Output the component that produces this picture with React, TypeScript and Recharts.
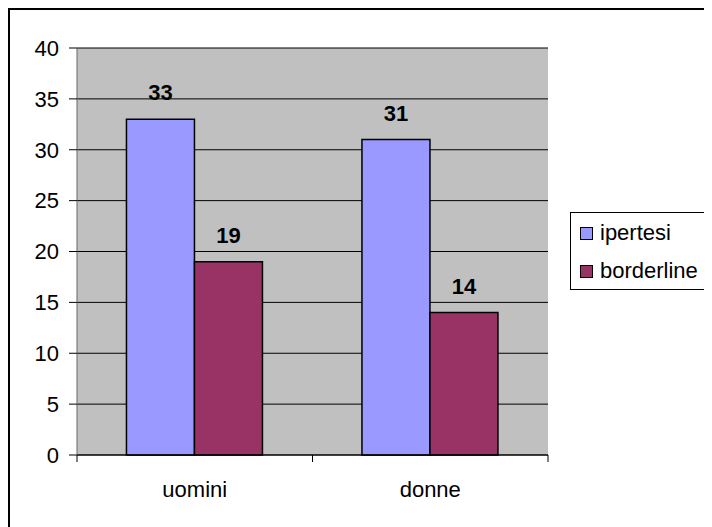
import { BarChart, Bar, XAxis, YAxis, CartesianGrid, Legend, LabelList } from 'recharts';

const categories = ['uomini', 'donne'];
const ipertesi = [33, 31];
const borderline = [19, 14];
const yTicks = [0, 5, 10, 15, 20, 25, 30, 35, 40];

const data = categories.map((name, i) => ({
  name,
  ipertesi: ipertesi[i],
  borderline: borderline[i],
}));

// helper axis runs 0..1 across the plot: even steps = category boundaries, odd = centers
const steps = categories.length * 2;
const xTicks = Array.from({ length: steps + 1 }, (_, k) => k / steps);

const FONT = '"Liberation Sans", Arial, sans-serif';

const XTick = (props: any) => {
  const { x, y, payload } = props;
  const k = Math.round(payload.value * steps);
  if (k % 2 === 0) {
    return <line x1={x} x2={x} y1={y} y2={y + 7} stroke="#000" strokeWidth={1} />;
  }
  return (
    <text x={x} y={y + 42} textAnchor="middle" fontSize={22} fill="#000" fontFamily={FONT}>
      {categories[(k - 1) / 2]}
    </text>
  );
};

const LegendBox = () => {
  const items = [
    { name: 'ipertesi', color: '#9999FF' },
    { name: 'borderline', color: '#993366' },
  ];
  return (
    <div
      style={{
        width: 141,
        height: 78,
        boxSizing: 'border-box',
        border: '1px solid #000',
        background: '#fff',
        fontFamily: FONT,
        fontSize: 22,
        paddingTop: 1,
        paddingLeft: 9,
      }}
    >
      {items.map((it) => (
        <div key={it.name} style={{ display: 'flex', alignItems: 'center', height: 38, lineHeight: '22px' }}>
          <span
            style={{
              display: 'inline-block',
              width: 11,
              height: 11,
              background: it.color,
              border: '1px solid #000',
              marginRight: 7,
            }}
          />
          <span>{it.name}</span>
        </div>
      ))}
    </div>
  );
};

export default function App() {
  return (
    <div
      style={{
        position: 'relative',
        width: 702,
        height: 517,
        borderTop: '2px solid #000',
        borderLeft: '2px solid #000',
        background: '#fff',
        fontFamily: FONT,
      }}
    >
      <BarChart
        width={702}
        height={517}
        data={data}
        margin={{ top: 38, right: 164, left: 7, bottom: 32 }}
        barCategoryGap="21%"
        barGap={0}
      >
        <CartesianGrid xAxisId="cat" vertical={false} fill="#C0C0C0" stroke="#000" strokeOpacity={1} />
        <XAxis xAxisId="cat" dataKey="name" hide height={0} />
        <XAxis
          xAxisId="num"
          type="number"
          domain={[0, 1]}
          allowDataOverflow
          ticks={xTicks}
          interval={0}
          height={40}
          tickSize={0}
          tickMargin={0}
          tickLine={false}
          axisLine={{ stroke: '#000' }}
          tick={<XTick />}
        />
        <YAxis
          domain={[0, 40]}
          ticks={yTicks}
          interval={0}
          width={60}
          tickSize={8}
          tickMargin={10}
          axisLine={{ stroke: '#666' }}
          tickLine={{ stroke: '#000' }}
          tick={{ fill: '#000', fontSize: 22, fontFamily: FONT }}
        />
        <YAxis
          yAxisId="r"
          orientation="right"
          domain={[0, 40]}
          width={0}
          tick={false}
          tickLine={false}
          axisLine={{ stroke: '#888' }}
        />
        <Legend
          layout="horizontal"
          verticalAlign="middle"
          align="center"
          content={<LegendBox />}
          wrapperStyle={{ position: 'absolute', left: 560, top: 202, width: 141, height: 78 }}
        />
        <Bar xAxisId="cat" dataKey="ipertesi" fill="#9999FF" stroke="#000" strokeWidth={1.5} isAnimationActive={false}>
          <LabelList
            dataKey="ipertesi"
            position="top"
            offset={19}
            style={{ fontWeight: 'bold', fontSize: 22, fill: '#000', fontFamily: FONT }}
          />
        </Bar>
        <Bar xAxisId="cat" dataKey="borderline" fill="#993366" stroke="#000" strokeWidth={1.5} isAnimationActive={false}>
          <LabelList
            dataKey="borderline"
            position="top"
            offset={19}
            style={{ fontWeight: 'bold', fontSize: 22, fill: '#000', fontFamily: FONT }}
          />
        </Bar>
      </BarChart>
    </div>
  );
}
